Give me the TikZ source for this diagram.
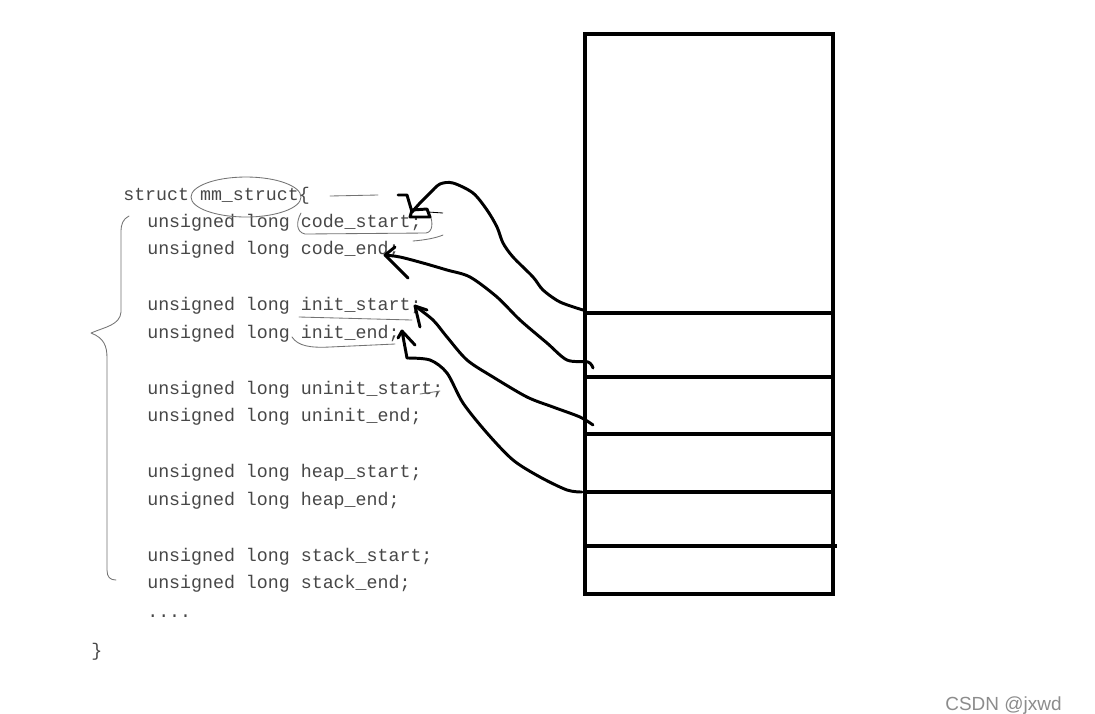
\documentclass[tikz,border=0pt]{standalone}
\usepackage{fontspec}
\setmonofont{Liberation Mono}
\setsansfont{Liberation Sans}
\usetikzlibrary{positioning}

\begin{document}
\begin{tikzpicture}[
    x=0.025cm, y=-0.025cm,
    code/.style={
        anchor=base west,
        inner sep=0pt,
        text=black!72,
        font=\ttfamily\fontsize{13}{15}\selectfont
    },
    pen/.style={line width=2.1pt, line cap=round, line join=round},
    wall/.style={line width=2.8pt},
    pencil/.style={draw=black!55, line width=0.6pt, line cap=round, line join=round}
]
\useasboundingbox[fill=white] (0,0) rectangle (1095,713);

% struct text
\node[code] (head) at (123,200) {struct mm\_struct\{};
\foreach \y/\n/\t in {227/codestart/code\_start;, 254/codeend/code\_end;,
    310/initstart/init\_start;, 338/initend/init\_end;,
    394/uninitstart/uninit\_start;, 421/uninitend/uninit\_end;,
    477/heapstart/heap\_start;, 505/heapend/heap\_end;,
    561/stackstart/stack\_start;, 588/stackend/stack\_end;}
    \node[code] (\n) at (147,\y) {unsigned long \t};
\node[code] (dots) at (147,617) {....};
\node[code] (close) at (91,656) {\}};

% pencil marks
\draw[pencil] (246,197) ellipse [x radius=55, y radius=20];
\draw[pencil] (330,196) -- (378,195);
\draw[pencil] (301,213) .. controls (296,222) and (296,232) .. (305,234)
    -- (426,233) .. controls (433,232) and (433,222) .. (430,215);
\draw[pencil] (413,241) .. controls (425,240) and (436,238) .. (443,235);
\draw[pencil] (299,317) -- (412,320);
\draw[pencil] (292,337) .. controls (298,346) and (310,348) .. (330,347) -- (395,344);
\draw[pencil] (420,394) -- (440,391);
% brace
\draw[pencil] (129,216) .. controls (123,219) and (121,224) .. (121,232)
    -- (121,312) .. controls (120,325) and (105,327) .. (91,333)
    .. controls (104,338) and (107,346) .. (107,358)
    -- (107,570) .. controls (107,577) and (110,580) .. (116,580);

% memory layout
\node[draw, wall, minimum width=6.2cm, minimum height=14cm, inner sep=0pt,
    anchor=north west] (mem) at (583,32) {};
\foreach \y/\r in {313/831, 377/831, 434/831, 492/835, 546/837}
    \draw[wall] (mem.west |- 0,\y) -- (\r,\y);

\coordinate (b1) at (583,310);
\coordinate (b2) at (593,368);
\coordinate (b3) at (593,425);
\coordinate (b4) at (582,492);
\coordinate (t1) at (412,212);
\coordinate (t2) at (385,255);
\coordinate (t3) at (415,306);
\coordinate (t4) at (402,331);

% hand drawn arrows
\draw[pen] plot[smooth, tension=0.5] coordinates {(b1) (560,302) (543,290) (533,277)
    (513,257) (503,243) (497,227) (487,210) (473,193) (453,183) (440,184)
    (430,193) (420,203) (t1)};
\draw[pen] (412,210) -- (427,209) -- (430,217) -- (410,217) -- cycle;
\draw[pen] (398,195) -- (407,195) -- (t1);
\draw[line width=0.6pt] (428,212) -- (443,213);

\draw[pen] plot[smooth, tension=0.5] coordinates {(b2) (588,362) (567,360) (547,343)
    (520,320) (497,297) (470,277) (447,270) (423,263) (400,257) (t2)};
\draw[pen] (395,247) -- (t2) -- (408,278);

\draw[pen] plot[smooth, tension=0.5] coordinates {(b3) (580,417) (553,407) (527,397)
    (493,377) (467,360) (447,337) (433,320) (t3)};
\draw[pen] (427,310) -- (t3) -- (420,327);

\draw[pen] plot[smooth, tension=0.5] coordinates {(b4) (567,490) (540,477) (513,460)
    (487,433) (463,403) (447,373) (430,360) (407,358)};
\draw[pen] (407,358) -- (t4) -- (415,345);
\draw[pen] (t4) -- (398,338);

% watermark
\node[anchor=north west, inner sep=0pt, text=black!45,
    font=\sffamily\fontsize{13.5}{15}\selectfont] (mark) at (945,696) {CSDN @jxwd};
\end{tikzpicture}
\end{document}
